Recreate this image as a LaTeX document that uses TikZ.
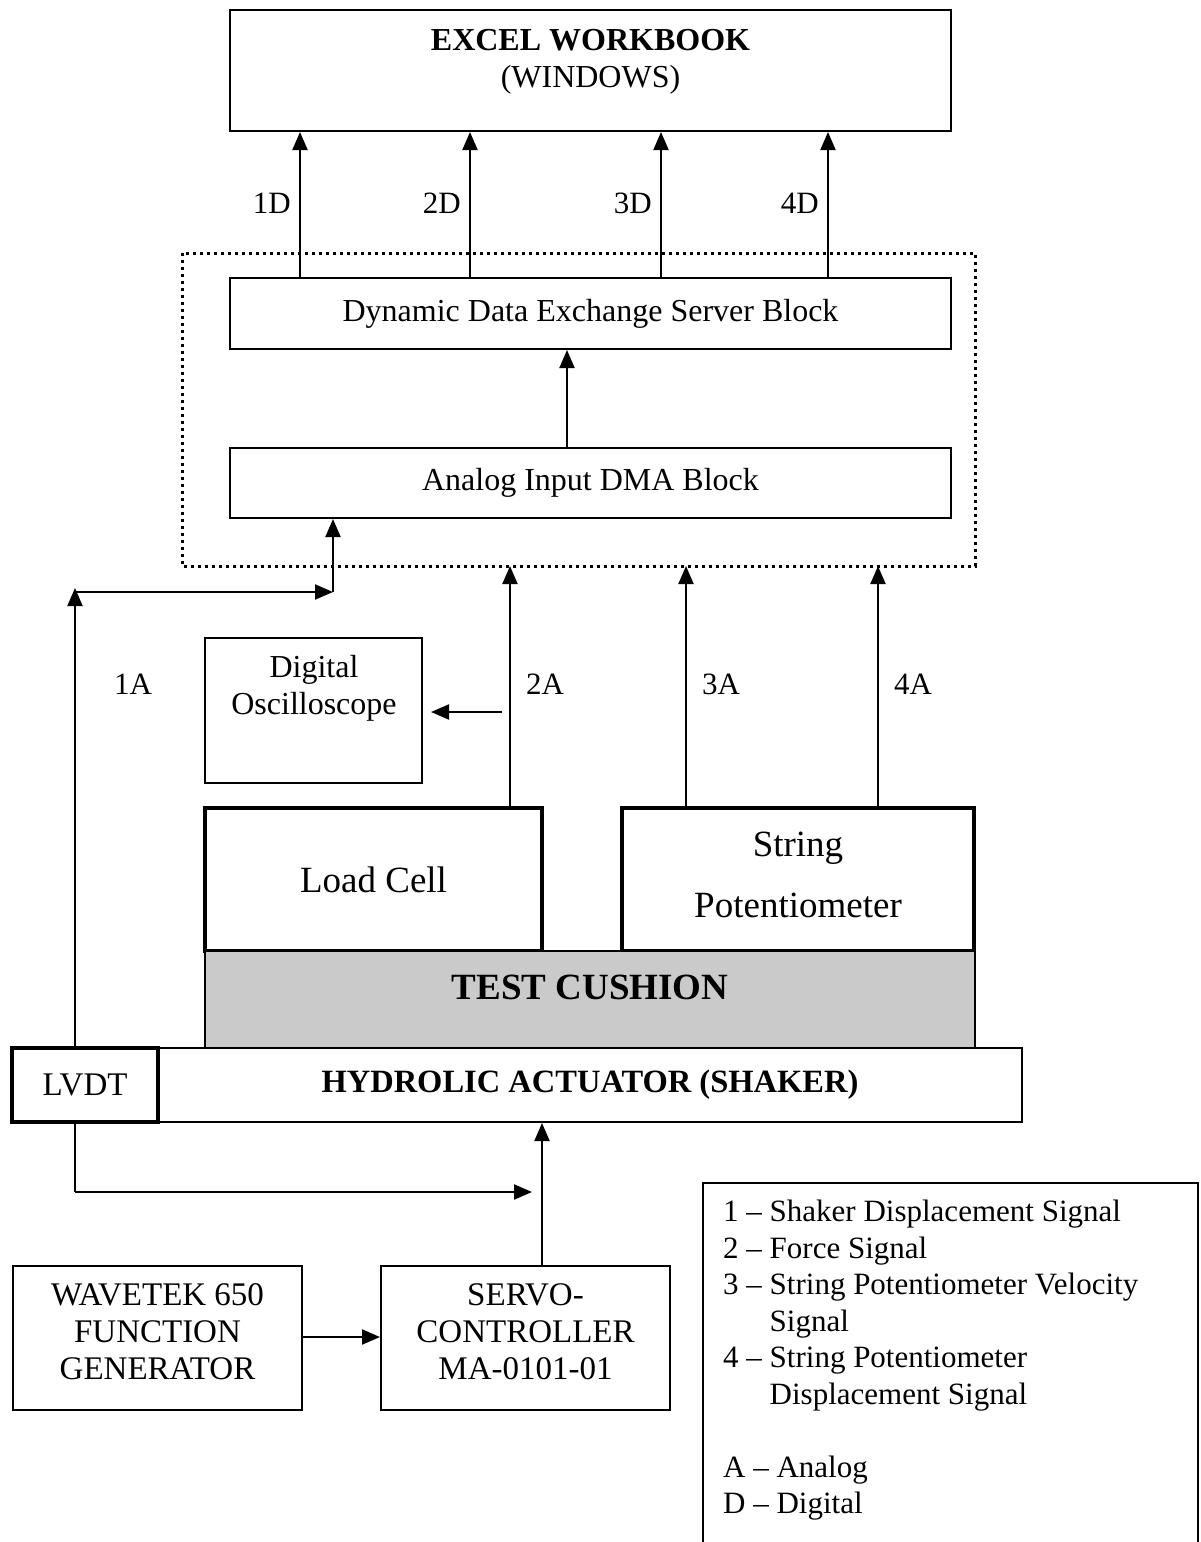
\documentclass[tikz,border=0pt]{standalone}
\usepackage{fontspec}
\setmainfont{Liberation Serif}
\usetikzlibrary{arrows.meta,calc}
\begin{document}
\begin{tikzpicture}[x=1pt,y=-1pt,
  box/.style={draw,line width=2pt,inner sep=0pt,align=center},
  thickbox/.style={draw,line width=3.5pt,inner sep=0pt,align=center},
  arr/.style={line width=2pt,-{Triangle[length=18pt,width=15pt]}},
  ln/.style={line width=2pt},
  plain/.style={inner sep=0pt,align=center},
  lbl/.style={inner sep=0pt,font=\fontsize{31}{36}\selectfont},
  txt/.style={font=\fontsize{32}{37}\selectfont},
  bigtxt/.style={font=\fontsize{37}{42}\selectfont}
]
\useasboundingbox (0,0) rectangle (1200,1542);
% top
\node[box,minimum width=721pt,minimum height=121pt] (excel) at (590.5,70.5) {};
\node[plain,font=\fontsize{32}{36.5}\selectfont] (exceltxt) at (590.5,62) {\textbf{EXCEL WORKBOOK}\\(WINDOWS)};
% dotted frame
\draw[line width=3pt,dash pattern=on 3pt off 4pt] (182,253) rectangle (975,566);
\node[coordinate] (frame) at (578,566) {};
\node[box,minimum width=721pt,minimum height=71pt,txt] (dde) at (590.5,313.5) {Dynamic Data Exchange Server Block};
\node[box,minimum width=721pt,minimum height=70pt,txt] (ana) at (590.5,483) {Analog Input DMA Block};
% digital arrows
\foreach \x/\l in {300/1D,470/2D,661/3D,828/4D}{
  \draw[arr] (dde.north -| \x,0) -- (excel.south -| \x,0);
  \node[lbl,anchor=east] at (\x-9,203) {\l};
}
\draw[arr] (ana.north -| 567,0) -- (dde.south -| 567,0);
% sensors
\node[box,minimum width=217pt,minimum height=145pt] (osc) at (313.5,710.5) {};
\node[plain,txt] (osctxt) at (314,688) {Digital\\Oscilloscope};
\node[thickbox,minimum width=337pt,minimum height=143pt,bigtxt] (load) at (373.5,879.5) {Load Cell};
\node[thickbox,minimum width=352pt,minimum height=143pt] (spot) at (798,879.5) {};
\node[plain,bigtxt] (spottxt) at (798,875) {String\\[19pt]Potentiometer};
\node[draw,line width=1.5pt,fill={rgb,255:red,202;green,202;blue,202},minimum width=770pt,minimum height=97pt,inner sep=0pt] (cush) at (590,999.5) {};
\node[font=\fontsize{37}{40}\selectfont\bfseries,inner sep=0pt] (cushlbl) at (590,987) {TEST CUSHION};
\node[box,minimum width=864pt,minimum height=74pt,font=\fontsize{32.5}{36}\selectfont\bfseries] (act) at (590,1085) {HYDROLIC ACTUATOR (SHAKER)};
\node[thickbox,minimum width=146pt,minimum height=74pt,font=\fontsize{33}{37}\selectfont] (lvdt) at (85,1085) {LVDT};
% analog arrows
\foreach \x/\l in {510/2A,686/3A,878/4A}{
  \node[lbl,anchor=west] at (\x+16,684) {\l};
}
\draw[arr] (load.north -| 510,0) -- (frame -| 510,0);
\draw[arr] (spot.north -| 686,0) -- (frame -| 686,0);
\draw[arr] (spot.north -| 878,0) -- (frame -| 878,0);
\coordinate (os) at (502,712);
\draw[arr] (os) -- ($(osc.east |- os)+(8,0)$);
% 1A path
\coordinate (k1) at (75,592);
\coordinate (k2) at (333,592);
\draw[arr] (lvdt.north -| k1) -- ($(k1)+(0,-4)$);
\draw[arr] (k1) -- (k2);
\draw[arr] (k2) -- (ana.south -| k2);
\node[lbl] at (133,684) {1A};
% bottom
\node[box,minimum width=289pt,minimum height=144pt] (wave) at (157.5,1338) {};
\node[plain,font=\fontsize{33}{37}\selectfont] (wavetxt) at (157.5,1332) {WAVETEK 650\\FUNCTION\\GENERATOR};
\node[box,minimum width=289pt,minimum height=144pt] (servo) at (525.5,1338) {};
\node[plain,font=\fontsize{33}{37}\selectfont] (servotxt) at (525.5,1332) {SERVO-\\CONTROLLER\\MA-0101-01};
\draw[arr] (wave.east |- 0,1337) -- (servo.west |- 0,1337);
\draw[arr] (servo.north -| 542,0) -- (act.south -| 542,0);
\coordinate (k3) at (75,1192);
\coordinate (k4) at (532,1192);
\draw[ln] (lvdt.south -| k3) -- (k3);
\draw[arr] (k3) -- (k4);
% legend
\draw[ln] (703,1560) -- (703,1183) -- (1198,1183) -- (1198,1560);
\node[anchor=north west,inner sep=0pt,font=\fontsize{31}{36.5}\selectfont] (leg) at (723,1196) {%
\begin{tabular}{@{}l@{\ \textendash\ }l@{}}
1 & Shaker Displacement Signal\\
2 & Force Signal\\
3 & String Potentiometer Velocity\\
\multicolumn{1}{@{}l@{\phantom{\ \textendash\ }}}{} & Signal\\
4 & String Potentiometer\\
\multicolumn{1}{@{}l@{\phantom{\ \textendash\ }}}{} & Displacement Signal\\
\multicolumn{2}{@{}l@{}}{}\\
\multicolumn{2}{@{}l@{}}{A \textendash\ Analog}\\
\multicolumn{2}{@{}l@{}}{D \textendash\ Digital}
\end{tabular}};
\end{tikzpicture}
\end{document}
